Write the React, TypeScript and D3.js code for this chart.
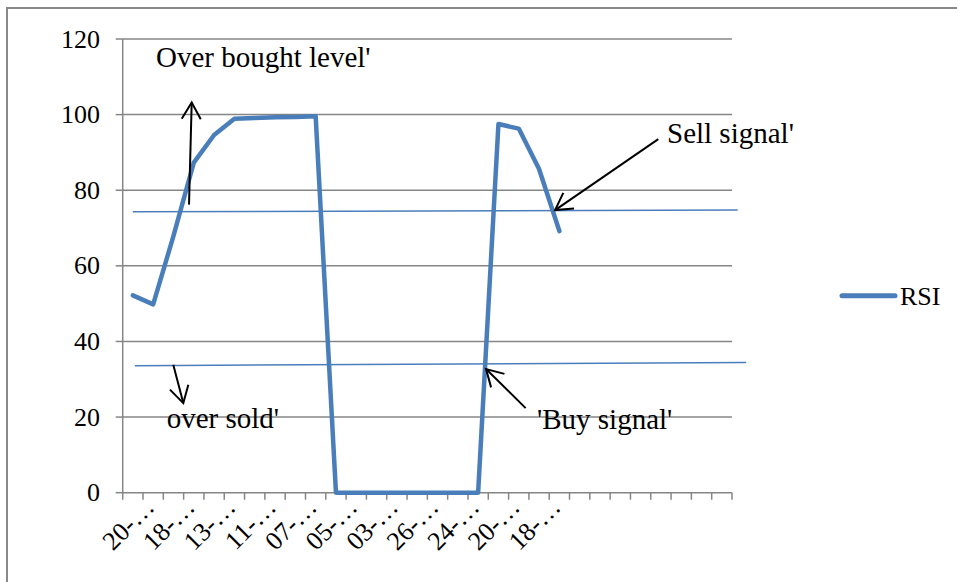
import React from "react";
import * as d3 from "d3";

const categories: string[] = [
  "20-…", "", "18-…", "", "13-…", "", "11-…", "", "07-…", "", "05-…", "",
  "03-…", "", "26-…", "", "24-…", "", "20-…", "", "18-…", "",
  "", "", "", "", "", "", "", "",
];
const rsiValues: number[] = [
  52.2, 49.8, 67.9, 87.3, 94.6, 98.9, 99.1, 99.3, 99.4, 99.6, 0, 0, 0, 0, 0, 0, 0, 0,
  97.5, 96.3, 85.6, 69.2,
];
const yTicks: number[] = [0, 20, 40, 60, 80, 100, 120];
const seriesName = "RSI";

// annotation shapes, in (category index, value) space
const levelLines = [
  { x1: 0, y1: 74.3, x2: 29.78, y2: 74.75 },
  { x1: 0.1, y1: 33.6, x2: 30.2, y2: 34.46 },
];
const arrows = [
  { x1: 2.765, y1: 76.2, x2: 2.897, y2: 103.2 },
  { x1: 1.99, y1: 33.85, x2: 2.484, y2: 23.7 },
  { x1: 25.87, y1: 93.5, x2: 20.79, y2: 74.75 },
  { x1: 19.34, y1: 22.37, x2: 17.39, y2: 32.7 },
];
const notes = [
  { text: "Over bought level'", x: 1.137, y: 112.5 },
  { text: "Sell signal'", x: 26.3, y: 92.6 },
  { text: "over sold'", x: 1.667, y: 17.07 },
  { text: "'Buy signal'", x: 19.9, y: 16.8 },
];

const W = 957;
const H = 582;
const left = 122.7;
const right = 732;
const top = 39;
const bottom = 492.7;
const blue = "#4a7ebb";
const grey = "#868686";
const fontStyle = { fontFamily: '"Liberation Serif", "Times New Roman", serif' };

export default function App() {
  const idx = categories.map((_, i) => i);
  const x = d3.scaleBand<number>().domain(idx).range([left, right]).padding(0);
  const bw = x.bandwidth();
  const cx = d3.scaleLinear().domain([0, 1]).range([left + bw / 2, left + bw * 1.5]);
  const y = d3.scaleLinear().domain([0, 120]).range([bottom, top]);

  const line = d3
    .line<number>()
    .x((_, i) => cx(i))
    .y((d) => y(d));

  const tickXs = d3.range(categories.length + 1).map((i) => left + i * bw);

  const arrowHead = (a: { x1: number; y1: number; x2: number; y2: number }) => {
    const px1 = cx(a.x1), py1 = y(a.y1), px2 = cx(a.x2), py2 = y(a.y2);
    const ang = Math.atan2(py2 - py1, px2 - px1);
    const len = 19;
    const spread = (30 * Math.PI) / 180;
    const b1 = [px2 - len * Math.cos(ang - spread), py2 - len * Math.sin(ang - spread)];
    const b2 = [px2 - len * Math.cos(ang + spread), py2 - len * Math.sin(ang + spread)];
    return `M${b1[0]},${b1[1]}L${px2},${py2}L${b2[0]},${b2[1]}`;
  };

  return (
    <svg width={W} height={H} style={{ position: "absolute", left: 0, top: 0, background: "#fff" }}>
      <rect x={7} y={8} width={W} height={H} fill="#fff" stroke="#888" strokeWidth={2} />
      {yTicks.filter((t) => t > 0).map((t) => (
        <line key={t} x1={left} x2={right} y1={y(t)} y2={y(t)} stroke={grey} strokeWidth={1.5} />
      ))}
      <line x1={left} x2={left} y1={top} y2={bottom} stroke={grey} strokeWidth={1.5} />
      {yTicks.map((t) => (
        <g key={"yt" + t}>
          <line x1={left - 7} x2={left} y1={y(t)} y2={y(t)} stroke={grey} strokeWidth={1.5} />
          <text x={100} y={y(t)} dy="0.33em" textAnchor="end" fontSize={26} fill="#000" style={fontStyle}>
            {t}
          </text>
        </g>
      ))}
      <line x1={left} x2={right} y1={bottom} y2={bottom} stroke={grey} strokeWidth={1.5} />
      {tickXs.map((tx, i) => (
        <line key={"xt" + i} x1={tx} x2={tx} y1={bottom} y2={bottom + 7} stroke={grey} strokeWidth={1.5} />
      ))}
      {categories.map((c, i) =>
        c ? (
          <text
            key={"xl" + i}
            transform={`translate(${cx(i) + 23},${bottom + 16}) rotate(-45)`}
            textAnchor="end"
            fontSize={26}
            fill="#000"
            style={fontStyle}
          >
            {c}
          </text>
        ) : null
      )}
      {levelLines.map((l, i) => (
        <line key={"lv" + i} x1={cx(l.x1)} y1={y(l.y1)} x2={cx(l.x2)} y2={y(l.y2)} stroke={blue} strokeWidth={1.5} />
      ))}
      <path d={line(rsiValues) || ""} fill="none" stroke={blue} strokeWidth={4.5} strokeLinejoin="round" strokeLinecap="round" />
      {arrows.map((a, i) => (
        <g key={"ar" + i} stroke="#000" strokeWidth={2} fill="none">
          <line x1={cx(a.x1)} y1={y(a.y1)} x2={cx(a.x2)} y2={y(a.y2)} />
          <path d={arrowHead(a)} />
        </g>
      ))}
      {notes.map((n, i) => (
        <text key={"nt" + i} x={cx(n.x)} y={y(n.y)} fontSize={29} fill="#000" style={fontStyle}>
          {n.text}
        </text>
      ))}
      <line x1={842} x2={895} y1={295.7} y2={295.7} stroke={blue} strokeWidth={5} strokeLinecap="round" />
      <text x={900} y={305} fontSize={26} fill="#000" style={fontStyle}>
        {seriesName}
      </text>
    </svg>
  );
}
